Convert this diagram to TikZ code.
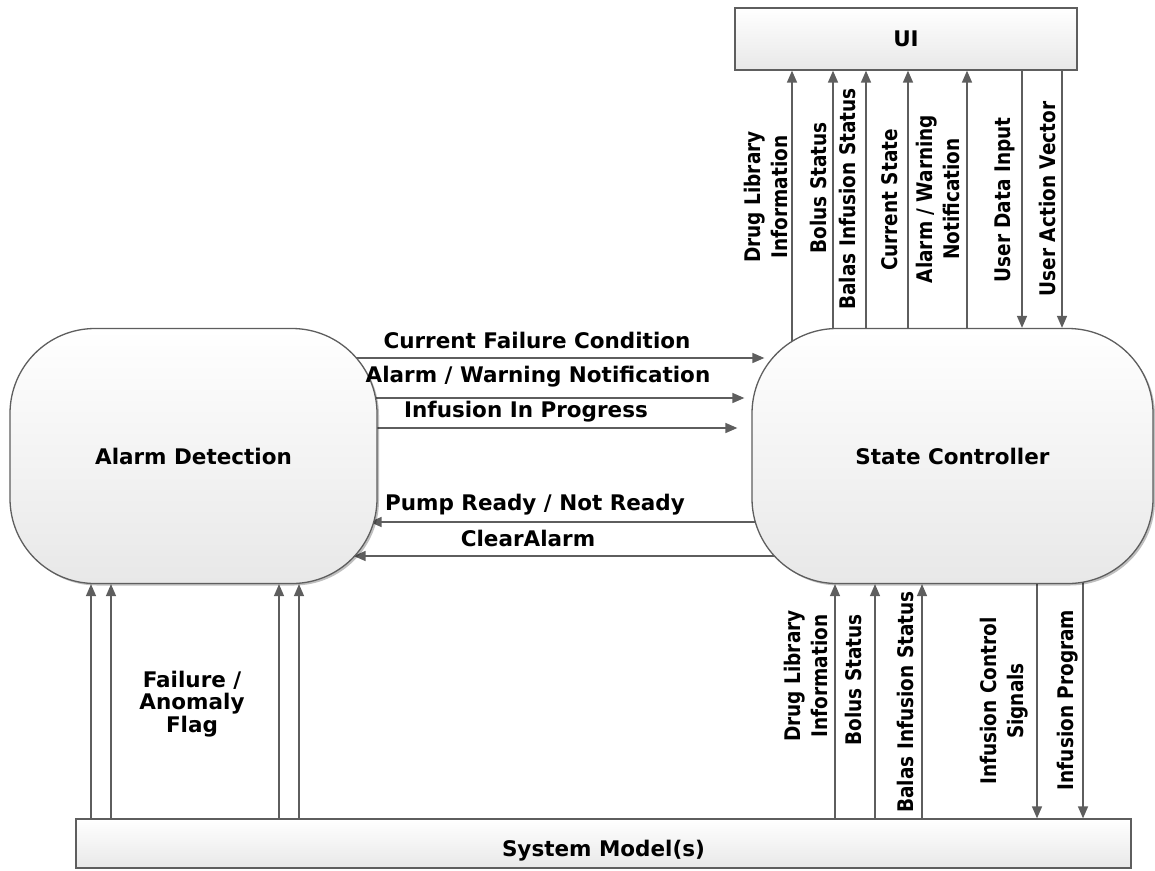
\documentclass[tikz,border=0pt]{standalone}
\usepackage{fontspec}
\setmainfont{DejaVu Sans}
\newfontfamily\condfont[FakeStretch=0.86]{DejaVu Sans}
\usetikzlibrary{arrows.meta}
\usetikzlibrary{shadows}
\usetikzlibrary{backgrounds}

\definecolor{linegray}{HTML}{5E5E5E}
\definecolor{boxgray}{HTML}{E8E8E8}
\newcommand{\lblfont}{\bfseries\fontsize{21.5}{27}\selectfont}
\newcommand{\vlblfont}{\condfont\bfseries\fontsize{21.5}{27}\selectfont}

\tikzset{
  block/.style={draw=linegray, line width=1.3pt, top color=white, bottom color=boxgray,
    inner sep=0pt, font=\lblfont},
  process/.style={block, rounded corners=85pt,
    drop shadow={shadow xshift=2pt, shadow yshift=-2pt, fill=black, opacity=0.25}},
  flow/.style={draw=linegray, line width=1.5pt, -{Triangle[length=12pt,width=10pt]}},
  lbl/.style={font=\lblfont, inner sep=0pt, align=center},
  vlbl/.style={font=\vlblfont, inner sep=0pt, align=center, rotate=90},
}

\begin{document}
\begin{tikzpicture}[x=1pt, y=-1pt]
  \useasboundingbox (0,0) rectangle (1155,870);

  \node[block, minimum width=342pt, minimum height=62pt] (ui) at (906,39) {UI};
  \node[process, minimum width=367pt, minimum height=255pt] (ad) at (193.5,456) {Alarm Detection};
  \node[process, minimum width=401pt, minimum height=255pt] (sc) at (952.5,456) {State Controller};
  \node[block, minimum width=1055pt, minimum height=49pt, text height=25.5pt, text depth=0pt] (sm) at (603.5,843.5) {System Model(s)};

  \begin{scope}[on background layer]
    \foreach \x in {792, 833, 866, 908, 967}
      \draw[flow] (sc.center -| \x,0) -- (ui.south -| \x,0);
    \foreach \x in {1022, 1062}
      \draw[flow] (ui.south -| \x,0) -- (sc.north -| \x,0);
    \foreach \x in {835, 875, 922}
      \draw[flow] (sm.north -| \x,0) -- (sc.south -| \x,0);
    \foreach \x in {1037, 1083}
      \draw[flow] (sc.center -| \x,0) -- (sm.north -| \x,0);
    \foreach \x in {91, 111, 279, 299}
      \draw[flow] (sm.north -| \x,0) -- (ad.south -| \x,0);

    \draw[flow] (ad.center |- 0,358) -- ([xshift=13pt]sc.west |- 0,358);
    \draw[flow] (ad.center |- 0,398) -- ([xshift=-7pt]sc.west |- 0,398);
    \draw[flow] (ad.center |- 0,428) -- ([xshift=-14pt]sc.west |- 0,428);
    \draw[flow] (sc.center |- 0,522) -- ([xshift=-8pt]ad.east |- 0,522);
    \draw[flow] (sc.center |- 0,556) -- ([xshift=-24pt]ad.east |- 0,556);
  \end{scope}

  \node[vlbl] (l dl) at (766,197) {Drug Library\\Information};
  \node[vlbl] (l bs) at (818,188) {Bolus Status};
  \node[vlbl] (l bis) at (847,199) {Balas Infusion Status};
  \node[vlbl] (l cs) at (890,200) {Current State};
  \node[vlbl] (l awn) at (938,199) {Alarm / Warning\\Notification};
  \node[vlbl] (l udi) at (1005,200) {User Data Input};
  \node[vlbl] (l uav) at (1047,199) {User Action Vector};

  \node[vlbl] (b dl) at (806,676) {Drug Library\\Information};
  \node[vlbl] (b bs) at (853,680) {Bolus Status};
  \node[vlbl] (b bis) at (905,702) {Balas Infusion Status};
  \node[vlbl] (b ics) at (1004,701) {Infusion Control\\Signals};
  \node[vlbl] (b ip) at (1068,700) {Infusion Program};

  \node[lbl] (h cfc) at (537,340) {Current Failure Condition};
  \node[lbl] (h awn) at (538,377) {Alarm / Warning Notification};
  \node[lbl] (h iip) at (526,412) {Infusion In Progress};
  \node[lbl] (h pr) at (535,505) {Pump Ready / Not Ready};
  \node[lbl] (h ca) at (528,538) {ClearAlarm};
  \node[lbl, font=\bfseries\fontsize{21.5}{22.5}\selectfont] (h faf) at (192,704) {Failure /\\Anomaly\\Flag};
\end{tikzpicture}
\end{document}
